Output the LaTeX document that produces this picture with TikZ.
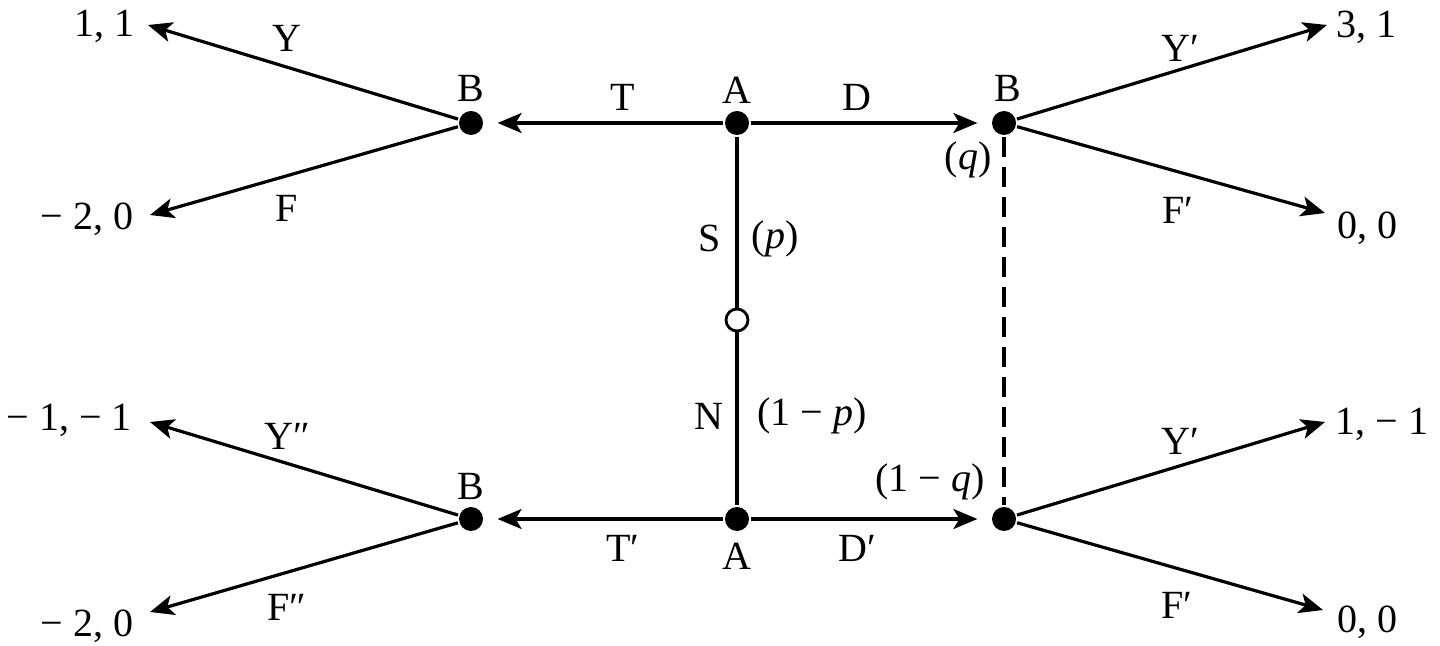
\documentclass[tikz,border=0pt]{standalone}
\usepackage{fontspec}
\setmainfont{Liberation Serif}
\usetikzlibrary{arrows.meta}

\begin{document}
\begin{tikzpicture}[x=0.5pt,y=-0.5pt,line width=1.6pt,
  every node/.style={font=\fontsize{20}{22}\selectfont},
  dot/.style={circle,fill=black,inner sep=0pt,minimum size=12pt},
  chance/.style={circle,draw,fill=white,inner sep=0pt,minimum size=11pt,line width=1.4pt},
  move/.style={-{Stealth[length=12pt,width=10pt,inset=3pt]}},
  info/.style={dash pattern=on 10pt off 5pt},]
  \useasboundingbox (0,0) rectangle (1440,646);
  % decision nodes
  \node[dot] (a1) at (737,123) {};
  \node[dot] (a2) at (737,519) {};
  \node[dot] (b1) at (471,123) {};
  \node[dot] (b2) at (1004,123) {};
  \node[dot] (b3) at (471,519) {};
  \node[dot] (b4) at (1004,519) {};
  \node[chance] (n0) at (737,320) {};
  % arrow tips
  \coordinate (y1) at (148,25);
  \coordinate (f1) at (150,215);
  \coordinate (y2) at (1327,25);
  \coordinate (f2) at (1325,213);
  \coordinate (y3) at (150,422);
  \coordinate (f3) at (150,612);
  \coordinate (y4) at (1325,422);
  \coordinate (f4) at (1323,610);
  % moves
  \draw[move,shorten >=6.5pt] (a1) -- (b1);
  \draw[move,shorten >=6.5pt] (a1) -- (b2);
  \draw[move,shorten >=6.5pt] (a2) -- (b3);
  \draw[move,shorten >=6.5pt] (a2) -- (b4);
  \draw (n0) -- (a1);
  \draw (n0) -- (a2);
  \draw[info] (b2) -- (b4);
  \draw[move] (b1) -- (y1);
  \draw[move] (b1) -- (f1);
  \draw[move] (b2) -- (y2);
  \draw[move] (b2) -- (f2);
  \draw[move] (b3) -- (y3);
  \draw[move] (b3) -- (f3);
  \draw[move] (b4) -- (y4);
  \draw[move] (b4) -- (f4);
  % payoffs
  \node (p1) at (104,26) {1, 1};
  \node (p2) at (87,219) {− 2, 0};
  \node (p3) at (1366,27) {3, 1};
  \node (p4) at (1367,228) {0, 0};
  \node (p5) at (69,420) {− 1, − 1};
  \node (p6) at (87,626) {− 2, 0};
  \node (p7) at (1382,424) {1, − 1};
  \node (p8) at (1367,622) {0, 0};
  % labels
  \node (lb1) at (471,88) {B};
  \node (la1) at (737,90) {A};
  \node (lb2) at (1008,88) {B};
  \node (lb3) at (471,486) {B};
  \node (la2) at (737,556) {A};
  \node (lt1) at (623,97) {T};
  \node (ld1) at (857,97) {D};
  \node (lt2) at (623,548) {T′};
  \node (ld2) at (857,548) {D′};
  \node (lq1) at (968,160) {(\textit{q})};
  \node (lq2) at (930,482) {(1 − \textit{q})};
  \node (ls) at (710,238) {S};
  \node (lp1) at (775,239) {(\textit{p})};
  \node (ln) at (709,416) {N};
  \node (lp2) at (812,416) {(1 − \textit{p})};
  \node (ly1) at (287,38) {Y};
  \node (lf1) at (287,208) {F};
  \node (ly2) at (1180,48) {Y′};
  \node (lf2) at (1178,210) {F′};
  \node (ly3) at (287,436) {Y″};
  \node (lf3) at (287,607) {F″};
  \node (ly4) at (1180,441) {Y′};
  \node (lf4) at (1177,605) {F′};
\end{tikzpicture}
\end{document}
